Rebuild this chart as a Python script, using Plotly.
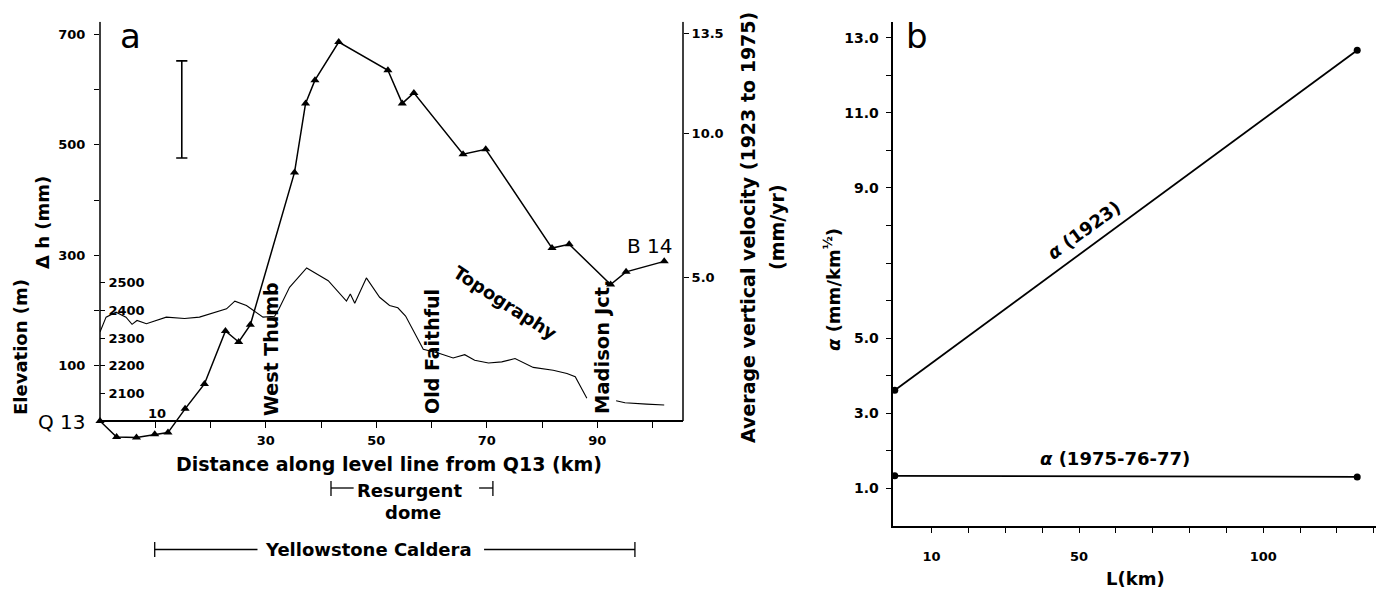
import plotly.graph_objects as go

W, H = 1386, 591
FONT = "DejaVu Sans"


def fx(px):
    return px / W


def fy(py):
    return 1 - py / H


# ---------------- Panel a data ----------------
dist_km = [0.0, 3.0, 6.6, 9.9, 12.3, 15.4, 18.9, 22.7, 25.1, 27.2, 35.2, 37.2,
           38.9, 43.2, 52.1, 54.7, 56.8, 65.7, 69.8, 81.8, 84.9, 92.4, 95.2, 102.1]
dh_mm = [0, -29, -30, -24, -21, 22, 67, 163, 143, 174, 450, 575,
         617, 686, 635, 575, 594, 483, 492, 313, 320, 247, 270, 289]

topo_km = [0.0, 1.1, 2.9, 4.7, 5.8, 6.7, 8.4, 12.0, 15.3, 18.0, 22.9, 24.4, 26.5,
           29.5, 31.6, 32.4, 34.3, 37.4, 41.3, 44.6, 45.3, 46.1, 48.2, 50.6, 52.4,
           53.9, 55.3, 58.5, 61.2, 63.9, 66.0, 67.8, 70.3, 72.7, 75.1, 78.4, 82.0,
           84.5, 86.0, 88.1, 90.0, 93.4, 95.0, 98.9, 102.1]
topo_m = [2322, 2376, 2394, 2376, 2350, 2364, 2352, 2376, 2371, 2376, 2406, 2434, 2418,
          2376, 2379, 2406, 2484, 2554, 2508, 2434, 2460, 2426, 2518, 2448, 2418,
          2410, 2380, 2260, 2246, 2228, 2240, 2220, 2210, 2214, 2226, 2194, 2184,
          2172, 2160, 2082, None, 2073, 2066, 2061, 2058]

errbar_km = [14.8, 14.8]
errbar_mm = [476, 652]

dh_ticks = [100, 200, 300, 400, 500, 600, 700]
dh_ticktext = ["100", "", "300", "", "500", "", "700"]
vel_ticks = [5.0, 10.0, 13.5]
vel_ticktext = ["5.0", "10.0", "13.5"]
elev_ticks = [2100, 2200, 2300, 2400, 2500]
dist_ticks = [10, 20, 30, 40, 50, 60, 70, 80, 90, 100]
dist_ticktext = ["", "", "30", "", "50", "", "70", "", "90", ""]

YEARS = 52  # 1923 to 1975 -> velocity axis = dh / 52
DH_RANGE = [-45.3, 722.9]
DIST_RANGE = [0, 105.5]

# ---------------- Panel b data ----------------
L_km = [0, 125.5]
alpha_1923 = [3.61, 12.67]
alpha_1975 = [1.33, 1.30]
L_ticks = list(range(10, 140, 10))
L_ticktext = ["10", "", "", "", "50", "", "", "", "", "100", "", "", ""]
a_ticks = list(range(1, 14))
a_ticktext = ["1.0", "", "3.0", "", "5.0", "", "", "", "9.0", "", "11.0", "", "13.0"]

fig = go.Figure()

fig.add_trace(go.Scatter(x=topo_km, y=topo_m, xaxis="x", yaxis="y3", mode="lines",
                         line=dict(color="black", width=1.1), connectgaps=False,
                         showlegend=False, hoverinfo="skip"))
# velocity series (same curve, on the velocity axis) - invisible, keeps that axis alive
fig.add_trace(go.Scatter(x=dist_km, y=[d / YEARS for d in dh_mm], xaxis="x", yaxis="y2",
                         mode="markers", marker=dict(size=1, opacity=0),
                         showlegend=False, hoverinfo="skip"))
fig.add_trace(go.Scatter(x=dist_km, y=dh_mm, xaxis="x", yaxis="y", mode="lines+markers",
                         line=dict(color="black", width=1.5),
                         marker=dict(symbol="triangle-up", size=8, color="black"),
                         cliponaxis=False, showlegend=False))
fig.add_trace(go.Scatter(x=errbar_km, y=errbar_mm, xaxis="x", yaxis="y", mode="lines+markers",
                         line=dict(color="black", width=1.6),
                         marker=dict(symbol="line-ew", size=8,
                                     line=dict(color="black", width=1.6)),
                         showlegend=False))
fig.add_trace(go.Scatter(x=L_km, y=alpha_1923, xaxis="x2", yaxis="y4", mode="lines+markers",
                         line=dict(color="black", width=1.8),
                         marker=dict(symbol="circle", size=7, color="black"),
                         cliponaxis=False, showlegend=False))
fig.add_trace(go.Scatter(x=L_km, y=alpha_1975, xaxis="x2", yaxis="y4", mode="lines+markers",
                         line=dict(color="black", width=1.8),
                         marker=dict(symbol="circle", size=7, color="black"),
                         cliponaxis=False, showlegend=False))


def tf(size):
    return dict(family=FONT, size=size, color="black", weight="bold")


fig.update_layout(
    width=W, height=H, autosize=False,
    margin=dict(l=0, r=0, t=0, b=0),
    paper_bgcolor="white", plot_bgcolor="white",
    font=dict(family=FONT, size=19, color="black"),
    showlegend=False,
    xaxis=dict(domain=[fx(100), fx(683)], range=DIST_RANGE, anchor="free",
               position=fy(421), showline=True, linecolor="black", linewidth=1.5,
               showgrid=False, zeroline=False, ticks="outside", ticklen=6,
               tickwidth=1.3, tickcolor="black", tickvals=dist_ticks,
               ticktext=dist_ticktext, tickfont=tf(13), ticklabelstandoff=2),
    yaxis=dict(domain=[fy(446), fy(21.7)], range=DH_RANGE, anchor="x",
               showline=False, showgrid=False, zeroline=False,
               ticks="outside", ticklen=5, tickwidth=1.3, tickcolor="black",
               tickvals=dh_ticks, ticktext=dh_ticktext, tickfont=tf(13),
               ticklabelstandoff=6),
    yaxis2=dict(overlaying="y", side="right", anchor="x",
                range=[DH_RANGE[0] / YEARS, DH_RANGE[1] / YEARS],
                showline=False, showgrid=False, zeroline=False,
                ticks="outside", ticklen=5, tickwidth=1.3, tickcolor="black",
                tickvals=vel_ticks, ticktext=vel_ticktext, tickfont=tf(13)),
    yaxis3=dict(overlaying="y", side="left", anchor="x",
                range=[2000 + 2 * DH_RANGE[0], 2000 + 2 * DH_RANGE[1]],
                showline=False, showgrid=False, zeroline=False,
                ticks="inside", ticklen=5, tickwidth=1.3, tickcolor="black",
                ticklabelposition="inside", tickvals=elev_ticks, tickfont=tf(13),
                ticklabelstandoff=3),
    xaxis2=dict(domain=[fx(893.3), fx(1376)], range=[-0.4, 130.6], anchor="y4",
                showline=True, linecolor="black", linewidth=1.5, showgrid=False,
                zeroline=False, ticks="outside", ticklen=6, tickwidth=1.3,
                tickcolor="black", tickvals=L_ticks, ticktext=L_ticktext,
                tickfont=tf(13), ticklabelstandoff=12),
    yaxis4=dict(domain=[fy(525.7), fy(21.7)], range=[0, 13.43], anchor="x2",
                showline=True, linecolor="black", linewidth=1.5, showgrid=False,
                zeroline=False, ticks="outside", ticklen=6, tickwidth=1.3,
                tickcolor="black", tickvals=a_ticks, ticktext=a_ticktext,
                tickfont=tf(14), ticklabelstandoff=4),
)

shapes = []
line_style = dict(color="black", width=1.5)
# left / right axis lines of panel a (from zero to top)
shapes.append(dict(type="line", xref="x domain", yref="y", x0=0, x1=0,
                   y0=0, y1=DH_RANGE[1], line=line_style))
shapes.append(dict(type="line", xref="x domain", yref="y", x0=1, x1=1,
                   y0=0, y1=DH_RANGE[1], line=line_style))
# Resurgent dome bracket
dome_l, dome_l2, dome_r2, dome_r = 41.8, 45.9, 68.6, 71.1
br = dict(color="black", width=1.3)
shapes += [
    dict(type="line", xref="x", yref="paper", x0=dome_l, x1=dome_l2, y0=fy(488), y1=fy(488), line=br),
    dict(type="line", xref="x", yref="paper", x0=dome_l, x1=dome_l, y0=fy(481), y1=fy(496), line=br),
    dict(type="line", xref="x", yref="paper", x0=dome_r2, x1=dome_r, y0=fy(488), y1=fy(488), line=br),
    dict(type="line", xref="x", yref="paper", x0=dome_r, x1=dome_r, y0=fy(481), y1=fy(496), line=br),
]
# Yellowstone Caldera bracket
cal_l, cal_l2, cal_r2, cal_r = 9.9, 28.5, 69.5, 96.8
shapes += [
    dict(type="line", xref="x", yref="paper", x0=cal_l, x1=cal_l2, y0=fy(549.5), y1=fy(549.5), line=br),
    dict(type="line", xref="x", yref="paper", x0=cal_l, x1=cal_l, y0=fy(542), y1=fy(557), line=br),
    dict(type="line", xref="x", yref="paper", x0=cal_r2, x1=cal_r, y0=fy(549.5), y1=fy(549.5), line=br),
    dict(type="line", xref="x", yref="paper", x0=cal_r, x1=cal_r, y0=fy(542), y1=fy(557), line=br),
]
fig.update_layout(shapes=shapes)


def ann(text, px, py, size=19, angle=0, bold=True, **kw):
    f = dict(family=FONT, size=size, color="black")
    if bold:
        f["weight"] = "bold"
    fig.add_annotation(text=text, x=fx(px), y=fy(py), xref="paper", yref="paper",
                       showarrow=False, xanchor="center", yanchor="middle",
                       textangle=angle, font=f, **kw)


ann("a", 130, 36, size=34, bold=False)
ann("Q 13", 62, 422, size=20, bold=False)
ann("10", 157, 413, size=13)
ann("B 14", 650, 246, size=20, bold=False)
ann("West Thumb", 271, 349, size=19, angle=-90)
ann("Old Faithful", 432, 352, size=19, angle=-90)
ann("Madison Jct.", 602, 347, size=19.5, angle=-90)
ann("Topography", 505, 302, size=18, angle=33)
ann("Δ h (mm)", 42, 223, size=18, angle=-90)
ann("Elevation (m)", 20, 347, size=18, angle=-90)
ann("Distance along level line from Q13 (km)", 389, 464, size=19)
ann("Resurgent", 409, 490, size=18)
ann("dome", 413, 512, size=18)
ann("Yellowstone Caldera", 368, 549, size=18)
ann("Average vertical velocity (1923 to 1975)", 748, 228, size=19, angle=-90)
ann("(mm/yr)", 777, 227, size=19, angle=-90)
ann("<i>α</i> (mm/km<sup>½</sup>)", 832, 290, size=18, angle=-90)
ann("b", 917, 36, size=34, bold=False)
ann("<i>α</i> (1923)", 1083, 230, size=18, angle=-36)
ann("<i>α</i> (1975-76-77)", 1115, 458, size=18)
ann("L(km)", 1135, 578, size=18)

fig.write_html("out.html")
